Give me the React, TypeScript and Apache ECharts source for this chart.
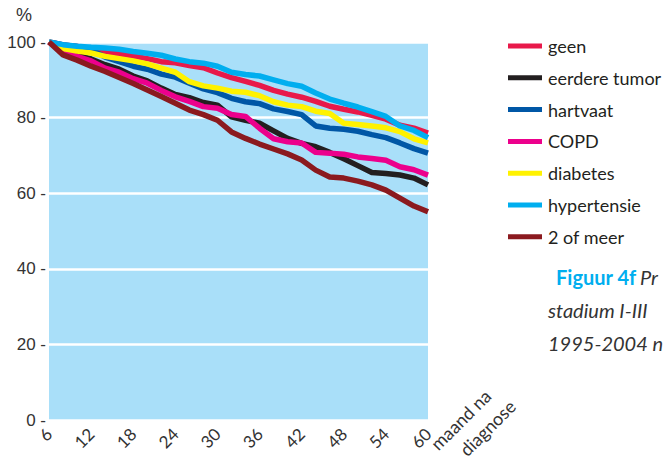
import React, { useEffect, useRef } from "react";
import * as echarts from "echarts";

const months = [6, 8, 10, 12, 14, 16, 18, 20, 22, 24, 26, 28, 30, 32, 34, 36, 38, 40, 42, 44, 46, 48, 50, 52, 54, 56, 58, 60];
const xTicks = [6, 12, 18, 24, 30, 36, 42, 48, 54, 60];
const yTicks = [0, 20, 40, 60, 80, 100];

const seriesNames = ["geen", "eerdere tumor", "hartvaat", "COPD", "diabetes", "hypertensie", "2 of meer"];
const seriesColors = ["#e8194a", "#231f20", "#0057a6", "#ec008c", "#fff200", "#00aeef", "#8b1a1f"];

const geen = [100, 99.2, 98.8, 98.3, 97.5, 96.9, 96.3, 95.6, 94.8, 94.5, 93.8, 93.2, 91.8, 90.6, 89.6, 88.5, 87.2, 86.2, 85.4, 84.3, 83.0, 82.2, 81.5, 80.6, 79.6, 78.0, 77.2, 75.9];
const eerdereTumor = [100, 98.0, 96.5, 95.5, 94.0, 92.8, 91.0, 89.7, 87.8, 86.1, 85.3, 84.0, 83.3, 80.2, 79.3, 78.5, 76.5, 74.5, 73.2, 72.3, 70.8, 69.1, 67.3, 65.5, 65.2, 64.8, 64.0, 62.2];
const hartvaat = [100, 99.2, 98.8, 98.0, 96.0, 94.8, 93.6, 92.8, 91.5, 90.7, 89.1, 87.6, 86.6, 85.1, 84.2, 83.7, 82.3, 81.6, 80.8, 77.8, 77.2, 76.9, 76.4, 75.5, 74.7, 73.3, 71.8, 70.6];
const copd = [100, 97.4, 96.2, 95.0, 93.1, 92.0, 90.3, 89.1, 87.2, 85.5, 84.3, 82.9, 82.5, 80.8, 80.3, 77.2, 74.4, 73.6, 73.3, 70.8, 70.6, 70.3, 69.6, 69.2, 68.7, 67.0, 66.2, 64.8];
const diabetes = [100, 98.3, 97.6, 97.1, 96.2, 95.6, 95.0, 94.2, 93.1, 92.0, 89.5, 88.4, 87.8, 87.0, 86.7, 85.8, 84.2, 83.3, 82.9, 81.7, 81.1, 78.5, 78.2, 77.8, 77.3, 76.3, 74.4, 73.3];
const hypertensie = [100, 99.3, 98.9, 98.6, 98.4, 98.1, 97.5, 97.0, 96.5, 95.5, 94.8, 94.4, 93.6, 92.0, 91.4, 91.0, 90.0, 89.0, 88.3, 86.5, 84.9, 83.8, 82.8, 81.6, 80.3, 77.8, 76.6, 74.7];
const tweeOfMeer = [100, 96.6, 95.2, 93.6, 92.2, 90.6, 89.0, 87.3, 85.6, 83.8, 82.0, 80.8, 79.3, 76.2, 74.5, 73.0, 71.7, 70.4, 68.8, 66.1, 64.3, 64.0, 63.2, 62.2, 60.8, 58.7, 56.6, 55.1];

const seriesValues = [geen, eerdereTumor, hartvaat, copd, diabetes, hypertensie, tweeOfMeer];

const captionTitle = "Figuur 4f";
const captionLines = ["Pr", "stadium I-III", "1995-2004 n"];

export default function App() {
  const ref = useRef<HTMLDivElement>(null);
  useEffect(() => {
    if (!ref.current) return;
    const chart = echarts.init(ref.current, undefined, { renderer: "svg" });
    const sans = "Lato, 'Noto Sans', sans-serif";
    const arial = "'Liberation Sans', Arial, sans-serif";
    chart.setOption({
      animation: false,
      backgroundColor: "#ffffff",
      grid: {
        left: 49,
        right: 241,
        top: 42,
        bottom: 39,
        show: true,
        backgroundColor: "#a9dff9",
        borderWidth: 0,
      },
      xAxis: {
        type: "value",
        min: xTicks[0],
        max: xTicks[xTicks.length - 1],
        interval: 6,
        axisLine: { show: false },
        axisTick: { show: false },
        splitLine: { show: false },
        axisLabel: {
          rotate: 45,
          margin: 11,
          fontSize: 17,
          color: "#333333",
          fontFamily: sans,
        },
      },
      yAxis: {
        type: "value",
        min: yTicks[0],
        max: yTicks[yTicks.length - 1],
        interval: 20,
        axisLine: { show: false },
        axisTick: { show: false },
        splitLine: { show: true, lineStyle: { color: "#ffffff", width: 2.5 } },
        axisLabel: {
          margin: 3,
          fontSize: 17,
          color: "#333333",
          fontFamily: arial,
          formatter: (v: number) => v + " -",
        },
      },
      legend: {
        orient: "vertical",
        left: 503,
        top: 31,
        icon: "rect",
        itemWidth: 34,
        itemHeight: 5,
        itemGap: 11.8,
        data: seriesNames,
        textStyle: {
          fontSize: 18,
          lineHeight: 20,
          color: "#231f20",
          fontFamily: sans,
          padding: [0, 0, 0, 1],
        },
      },
      graphic: [
        {
          type: "text",
          left: 16,
          top: 6,
          style: { text: "%", fontSize: 18, fill: "#333333", fontFamily: arial },
        },
        {
          type: "text",
          x: 440,
          y: 453,
          rotation: Math.PI / 4,
          style: { text: "maand na", fontSize: 18, fill: "#333333", fontFamily: sans, textAlign: "left", textVerticalAlign: "bottom" },
        },
        {
          type: "text",
          x: 469,
          y: 459,
          rotation: Math.PI / 4,
          style: { text: "diagnose", fontSize: 18, fill: "#333333", fontFamily: sans, textAlign: "left", textVerticalAlign: "bottom" },
        },
        {
          type: "text",
          x: 556,
          y: 287,
          style: {
            text: "{a|" + captionTitle + "} {b|" + captionLines[0] + "}",
            textVerticalAlign: "bottom",
            rich: {
              a: { fontSize: 20, fontWeight: "bold", fill: "#00aeef", fontFamily: sans },
              b: { fontSize: 20, fontStyle: "italic", fill: "#333333", fontFamily: sans },
            },
          },
        },
        {
          type: "text",
          x: 548,
          y: 320,
          style: { text: captionLines[1], fontSize: 20, fontStyle: "italic", fill: "#333333", fontFamily: sans, textVerticalAlign: "bottom" },
        },
        {
          type: "text",
          x: 548,
          y: 353,
          style: { text: captionLines[2], fontSize: 20, fontStyle: "italic", fill: "#333333", fontFamily: sans, textVerticalAlign: "bottom" },
        },
      ],
      series: seriesNames.map((name, i) => ({
        name,
        type: "line",
        data: months.map((m, j) => [m, seriesValues[i][j]]),
        showSymbol: false,
        symbol: "none",
        color: seriesColors[i],
        lineStyle: { width: 5.5, color: seriesColors[i], join: "round" },
        itemStyle: { color: seriesColors[i] },
      })),
    });
    return () => chart.dispose();
  }, []);
  return <div ref={ref} style={{ position: "fixed", left: 0, top: 0, width: 669, height: 459 }} />;
}
